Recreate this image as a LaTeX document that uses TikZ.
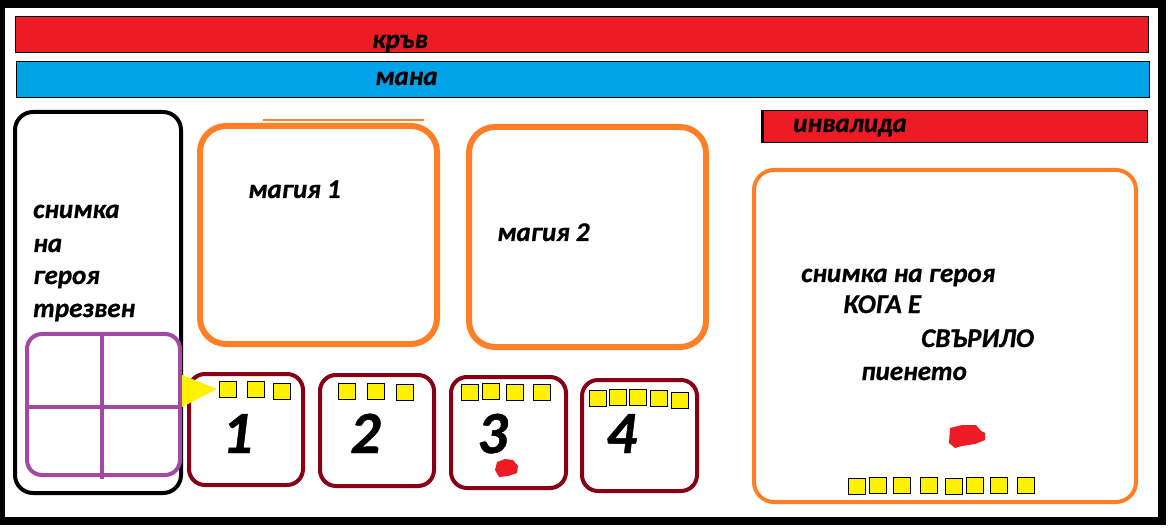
\documentclass[tikz,border=0pt]{standalone}
\usepackage{fontspec}
\setmainfont{Carlito}[BoldItalicFeatures={FakeBold=0.8}]
\definecolor{pred}{HTML}{ED1C24}
\definecolor{pblue}{HTML}{00A2E8}
\definecolor{porange}{HTML}{FF7F27}
\definecolor{pdark}{HTML}{880015}
\definecolor{ppurple}{HTML}{A349A4}
\definecolor{pyellow}{HTML}{FFF200}
\tikzset{
  lbl/.style={font=\bfseries\itshape\fontsize{27}{30}\selectfont, anchor=base west, inner sep=0pt, text=black},
  digit/.style={font=\bfseries\itshape\fontsize{60}{60}\selectfont, anchor=base west, inner sep=0pt, text=black},
  bar/.style={draw=black, line width=1pt},
  magbox/.style={draw=porange, line width=6pt, rounded corners=26pt},
  slotbox/.style={draw=pdark, line width=4pt, rounded corners=16pt},
  ysq/.style={draw=black, fill=pyellow, line width=1pt, minimum width=17pt, minimum height=16pt, inner sep=0pt, anchor=north west},
  blob/.style={fill=pred, draw=none}
}
\begin{document}
\begin{tikzpicture}[x=1pt,y=-1pt]
\useasboundingbox (0,0) rectangle (1170,529);
% outer frame
\fill[black] (0,0) rectangle (1166,525);
\fill[white] (5,8) rectangle (1158,517);
% bars
\draw[bar, fill=pred] (15,17) rectangle (1148,53);
\draw[bar, fill=pblue] (16,62) rectangle (1149,98);
\node[lbl] (blood) at (372,48) {кръв};
\node[lbl] (mana) at (375,85) {мана};
\draw[bar, fill=pred] (761,111) rectangle (1147,143);
\draw[black, line width=3pt] (762.5,111) -- (762.5,143);
\node[lbl] (invalid) at (793,132) {инвалида};
% left hero panel
\draw[black, line width=4pt, rounded corners=18pt] (15,112) rectangle (181,493);
\node[lbl] (t1) at (33,218) {снимка};
\node[lbl] (t2) at (33,252) {на};
\node[lbl] (t3) at (33,284) {героя};
\node[lbl] (t4) at (33,317) {трезвен};
% purple grid
\draw[ppurple, line width=4pt, rounded corners=15pt] (27,334) rectangle (180,475);
\draw[ppurple, line width=4pt] (102,334) -- (102,479);
\draw[ppurple, line width=4pt] (27,407) -- (180,407);
% magic boxes
\draw[porange, line width=2pt] (263,120) -- (424,120);
\draw[magbox] (200,126) rectangle (437,344);
\draw[magbox] (469,127) rectangle (706,347);
\node[lbl] (m1) at (248,198) {магия 1};
\node[lbl] (m2) at (497,241) {магия 2};
% slot boxes
\draw[slotbox] (189,374) rectangle (303,485);
\draw[slotbox] (320,375) rectangle (434,486);
\draw[slotbox] (451,377) rectangle (566,488);
\draw[slotbox] (582,380) rectangle (697,491);
\node[digit] (d1) at (222,453) {1};
\node[digit] (d2) at (350,453) {2};
\node[digit] (d3) at (477,453) {3};
\node[digit] (d4) at (606,453) {4};
% yellow squares in slots
\node[ysq] (a1) at (219,381) {};
\node[ysq] (a2) at (247,381) {};
\node[ysq] (a3) at (273,383) {};
\node[ysq] (b1) at (338,383) {};
\node[ysq] (b2) at (367,383) {};
\node[ysq] (b3) at (396,384) {};
\node[ysq] (c1) at (461,384) {};
\node[ysq] (c2) at (482,383) {};
\node[ysq] (c3) at (506,384) {};
\node[ysq] (c4) at (533,384) {};
\node[ysq] (e1) at (589,390) {};
\node[ysq] (e2) at (609,389) {};
\node[ysq] (e3) at (629,389) {};
\node[ysq] (e4) at (650,390) {};
\node[ysq] (e5) at (671,392) {};
% yellow pointer
\fill[pyellow] (182,375) -- (217,389) -- (182,407) -- cycle;
% blob in slot 3
\fill[blob] (497,462) -- (505,459) -- (513,460) -- (518,466) -- (517,473) -- (508,476) -- (499,477) -- (495,470) -- cycle;
% right hero panel
\draw[porange, line width=4pt, rounded corners=20pt] (754,170) rectangle (1136,502);
\node[lbl] (r1) at (801,282) {снимка на героя};
\node[lbl] (r2) at (843,313) {КОГА Е};
\node[lbl] (r3) at (921,347) {СВЪРИЛО};
\node[lbl] (r4) at (861,380) {пиенето};
\fill[blob] (950,428) -- (962,425) -- (976,425) -- (981,431) -- (985,433) -- (985,440) -- (975,444) -- (962,446) -- (955,448) -- (949,443) -- cycle;
\node[ysq] (f1) at (848,478) {};
\node[ysq] (f2) at (869,477) {};
\node[ysq] (f3) at (893,477) {};
\node[ysq] (f4) at (920,477) {};
\node[ysq] (f5) at (945,478) {};
\node[ysq] (f6) at (966,477) {};
\node[ysq] (f7) at (990,477) {};
\node[ysq] (f8) at (1017,477) {};
\end{tikzpicture}
\end{document}
